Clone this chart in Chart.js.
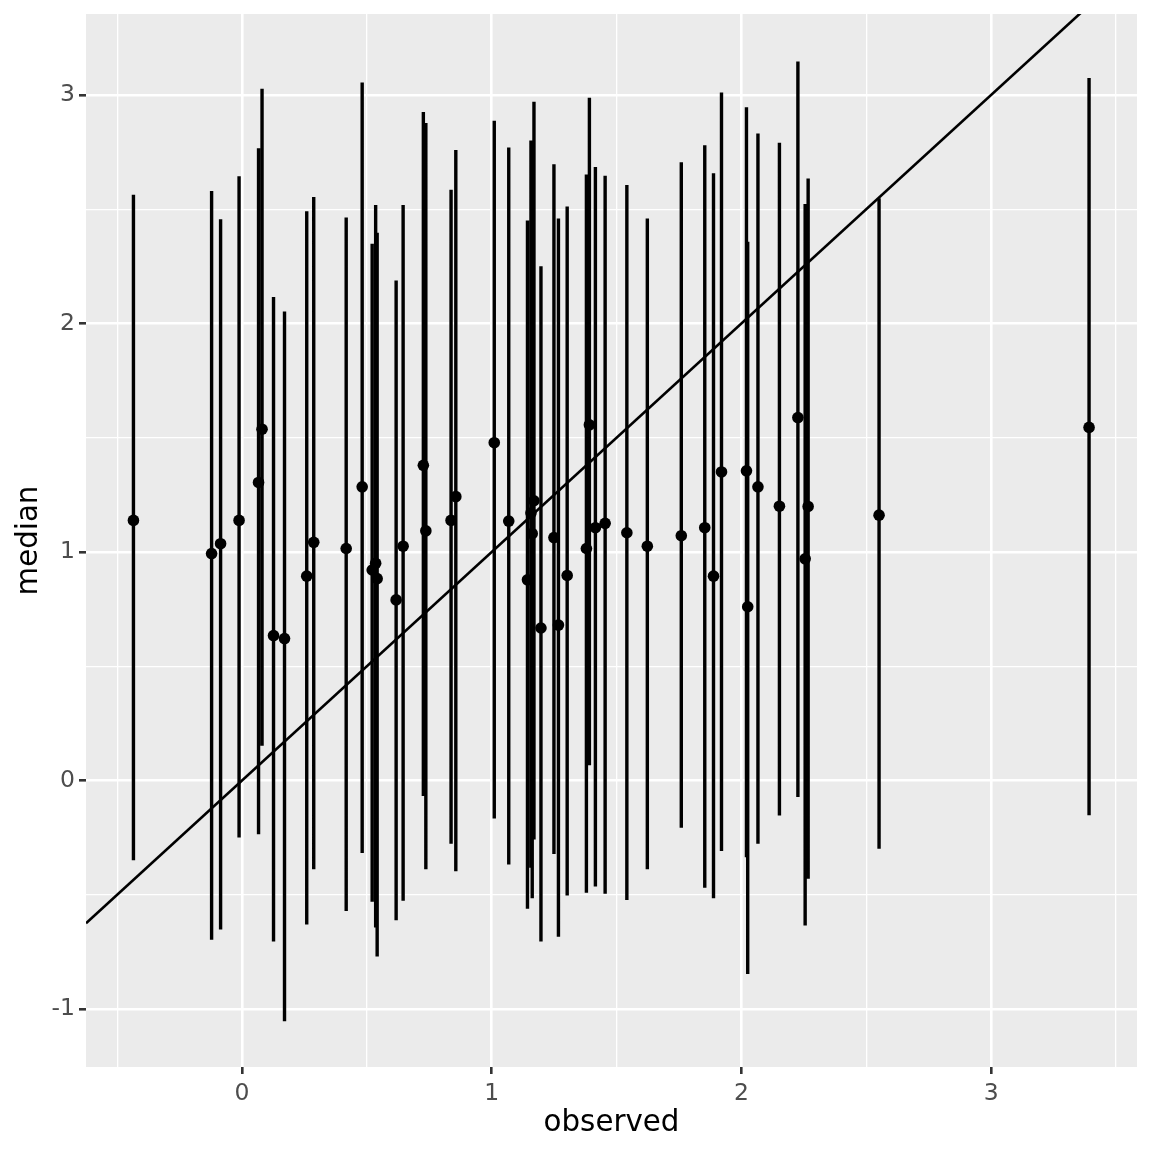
<!DOCTYPE html>
<html lang="en">
<head>
    <meta charset="utf-8"/>
    <title>median vs observed</title>
    <script src="https://cdn.jsdelivr.net/npm/chart.js"></script>
    <style>
        html, body {
            margin: 0;
            padding: 0;
            background: #ffffff;
        }
        canvas {
            display: block;
            width: 1152px;
            height: 1152px;
        }
    </style>
</head>
<body>
    <canvas id="myChart" width="1152" height="1152"></canvas>
    <script>
        // values
        const observed = [-0.435, -0.122, -0.086, -0.012, 0.066, 0.080, 0.126, 0.170, 0.259, 0.287,
                          0.417, 0.481, 0.521, 0.535, 0.541, 0.617, 0.645, 0.726, 0.736, 0.837,
                          0.856, 1.010, 1.068, 1.143, 1.157, 1.162, 1.169, 1.197, 1.249, 1.267,
                          1.302, 1.379, 1.391, 1.415, 1.454, 1.541, 1.623, 1.759, 1.853, 1.888,
                          1.920, 2.020, 2.025, 2.066, 2.152, 2.226, 2.255, 2.267, 2.551, 3.392];
        const median   = [1.138, 0.993, 1.036, 1.138, 1.304, 1.537, 0.634, 0.621, 0.894, 1.042,
                          1.015, 1.285, 0.921, 0.950, 0.883, 0.790, 1.025, 1.379, 1.092, 1.138,
                          1.242, 1.478, 1.135, 0.878, 1.170, 1.080, 1.224, 0.667, 1.063, 0.680,
                          0.897, 1.015, 1.556, 1.106, 1.125, 1.084, 1.025, 1.071, 1.106, 0.894,
                          1.350, 1.355, 0.760, 1.285, 1.200, 1.588, 0.970, 1.199, 1.161, 1.545];
        const lower    = [-0.349, -0.697, -0.652, -0.250, -0.236, 0.152, -0.705, -1.054, -0.630, -0.389,
                          -0.571, -0.317, -0.531, -0.644, -0.770, -0.612, -0.526, -0.068, -0.389, -0.277,
                          -0.397, -0.167, -0.368, -0.561, -0.382, -0.516, -0.258, -0.705, -0.322, -0.684,
                          -0.504, -0.491, 0.066, -0.464, -0.496, -0.523, -0.389, -0.207, -0.470, -0.515,
                          -0.309, -0.336, -0.847, -0.277, -0.153, -0.073, -0.635, -0.430, -0.299, -0.152];
        const upper    = [2.563, 2.579, 2.456, 2.644, 2.767, 3.027, 2.116, 2.052, 2.491, 2.553,
                          2.464, 3.054, 2.349, 2.518, 2.397, 2.188, 2.518, 2.925, 2.877, 2.585,
                          2.759, 2.887, 2.770, 2.450, 2.800, 2.760, 2.970, 2.250, 2.697, 2.459,
                          2.512, 2.652, 2.987, 2.684, 2.646, 2.606, 2.459, 2.705, 2.780, 2.657,
                          3.011, 2.946, 2.357, 2.831, 2.791, 3.146, 2.523, 2.634, 2.548, 3.074];

        // reference line y = intercept + slope * x
        const abIntercept = 0;
        const abSlope = 1;

        // axis limits and ticks
        const xMin = -0.625, xMax = 3.584;
        const yMin = -1.254, yMax = 3.354;
        const xTicks = [-0.5, 0, 0.5, 1, 1.5, 2, 2.5, 3, 3.5];
        const yTicks = [-1, -0.5, 0, 0.5, 1, 1.5, 2, 2.5, 3];

        const isMajor = v => Number.isInteger(v);

        var rangeData = [];
        observed.forEach(function (x, i) {
            rangeData.push({x: x, y: lower[i]});
            rangeData.push({x: x, y: upper[i]});
            rangeData.push({x: x, y: null});
        });
        var pointData = observed.map((x, i) => ({x: x, y: median[i]}));
        var ablineData = [
            {x: xMin, y: abIntercept + abSlope * xMin},
            {x: xMax, y: abIntercept + abSlope * xMax}
        ];

        const panelBg = {
            id: 'panelBg',
            beforeDraw(chart) {
                const c = chart.ctx, a = chart.chartArea;
                c.save();
                c.fillStyle = '#ffffff';
                c.fillRect(0, 0, chart.width, chart.height);
                c.fillStyle = '#EBEBEB';
                c.fillRect(a.left, a.top, a.right - a.left, a.bottom - a.top);
                c.restore();
            }
        };

        function gridOpts() {
            return {
                color: '#ffffff',
                lineWidth: ctx => isMajor(ctx.tick.value) ? 2.6 : 1.3,
                drawTicks: true,
                tickLength: 7,
                tickColor: ctx => isMajor(ctx.tick.value) ? '#333333' : 'rgba(0,0,0,0)',
                tickWidth: ctx => isMajor(ctx.tick.value) ? 2.6 : 0
            };
        }

        // fixed axis boxes so the panel sits where the original has it
        function fitBox(size) {
            return function (scale) {
                if (scale.isHorizontal()) scale.height = size;
                else scale.width = size;
                scale.paddingTop = 0;
                scale.paddingBottom = 0;
                scale.paddingLeft = 0;
                scale.paddingRight = 0;
            };
        }

        var ctx = document.getElementById('myChart');
        var mychart = new Chart(ctx, {
            type: 'scatter',
            data: {
                datasets: [
                    {
                        label: 'median',
                        data: pointData,
                        showLine: false,
                        pointRadius: 5.8,
                        pointBackgroundColor: '#000000',
                        pointBorderWidth: 0,
                        order: 0
                    },
                    {
                        type: 'line',
                        label: 'y = x',
                        data: ablineData,
                        borderColor: '#000000',
                        borderWidth: 2.6,
                        pointRadius: 0,
                        fill: false,
                        order: 1
                    },
                    {
                        type: 'line',
                        label: 'range',
                        data: rangeData,
                        borderColor: '#000000',
                        borderWidth: 3.4,
                        borderCapStyle: 'butt',
                        pointRadius: 0,
                        spanGaps: false,
                        fill: false,
                        order: 2
                    }
                ]
            },
            options: {
                responsive: false,
                devicePixelRatio: 1,
                animation: false,
                events: [],
                layout: {
                    padding: {top: 14, right: 15, left: 0, bottom: 0}
                },
                plugins: {
                    legend: {display: false},
                    tooltip: {enabled: false}
                },
                scales: {
                    x: {
                        type: 'linear',
                        position: 'bottom',
                        min: xMin,
                        max: xMax,
                        afterBuildTicks: axis => { axis.ticks = xTicks.map(v => ({value: v})); },
                        afterFit: fitBox(85),
                        grid: gridOpts(),
                        border: {display: false},
                        ticks: {
                            autoSkip: false,
                            maxRotation: 0,
                            padding: 6,
                            color: '#4D4D4D',
                            font: {family: 'DejaVu Sans', size: 23.5},
                            callback: v => isMajor(v) ? String(v) : ''
                        },
                        title: {
                            display: true,
                            text: 'observed',
                            color: '#000000',
                            font: {family: 'DejaVu Sans', size: 29.3},
                            padding: {top: 0, bottom: 11}
                        }
                    },
                    y: {
                        type: 'linear',
                        position: 'left',
                        min: yMin,
                        max: yMax,
                        afterBuildTicks: axis => { axis.ticks = yTicks.map(v => ({value: v})); },
                        afterFit: fitBox(86),
                        grid: gridOpts(),
                        border: {display: false},
                        ticks: {
                            autoSkip: false,
                            padding: 4,
                            color: '#4D4D4D',
                            font: {family: 'DejaVu Sans', size: 23.5},
                            callback: v => isMajor(v) ? String(v) : ''
                        },
                        title: {
                            display: true,
                            text: 'median',
                            color: '#000000',
                            font: {family: 'DejaVu Sans', size: 29.3},
                            padding: {top: 12, bottom: 0}
                        }
                    }
                }
            },
            plugins: [panelBg]
        });
    </script>
</body>
</html>
